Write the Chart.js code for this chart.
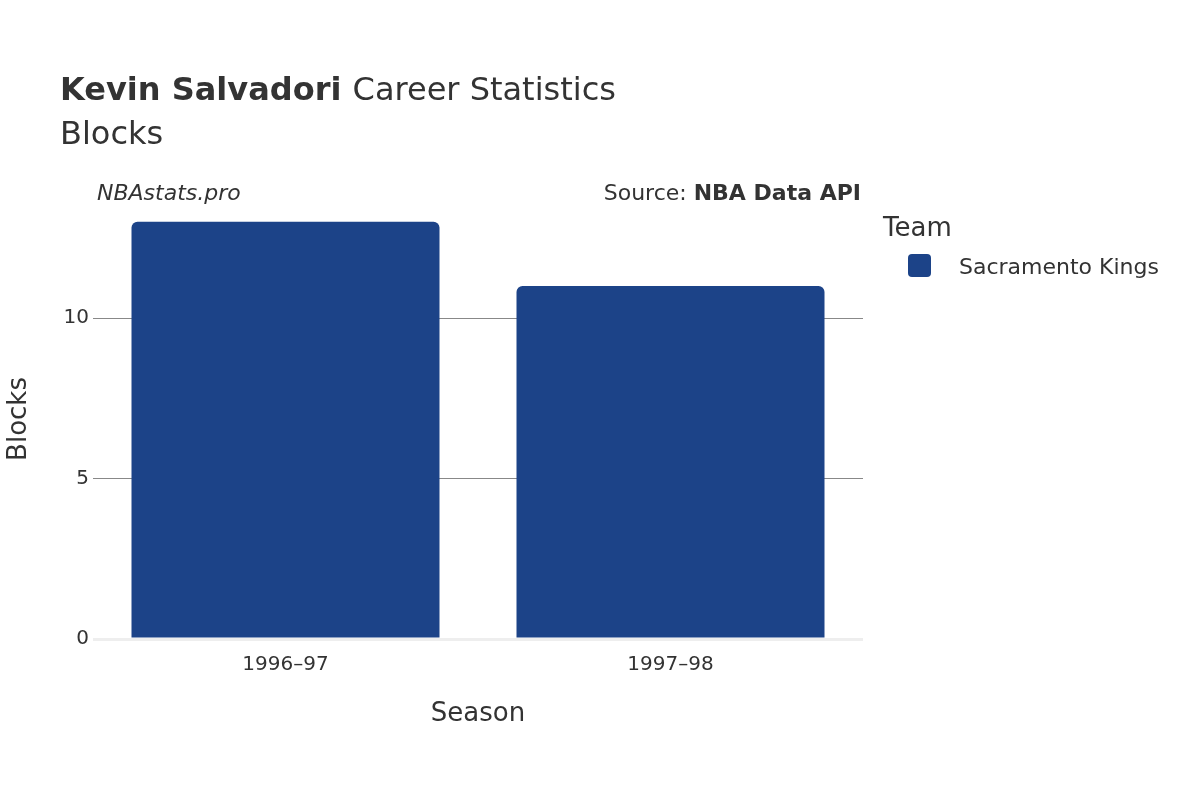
<!DOCTYPE html>
<html><head><meta charset="utf-8">
<script src="https://cdn.jsdelivr.net/npm/chart.js@4"></script>
<style>html,body{margin:0;padding:0;background:#fff}#c{display:block}</style>
</head><body>
<div style="width:1200px;height:800px"><canvas id="c" width="1200" height="800"></canvas></div>
<script>
const seasons = ["1996\u201397", "1997\u201398"];
const blocks = [13, 11];
const teamName = "Sacramento Kings";
const yTicks = [0, 5, 10];
const F = "'DejaVu Sans', sans-serif";
const txt = {
  id: 'txt',
  afterDraw(ch) {
    const c = ch.ctx; c.save(); c.fillStyle = '#333'; c.textBaseline = 'alphabetic';
    c.font = "bold 32px " + F; c.textAlign = 'left';
    c.fillText("Kevin Salvadori", 60, 100);
    const w = c.measureText("Kevin Salvadori ").width;
    c.font = "32px " + F; c.fillText("Career Statistics", 60 + w, 100);
    c.fillText("Blocks", 60, 144);
    c.font = "italic 22px " + F; c.fillText("NBAstats.pro", 97, 200);
    c.textAlign = 'right'; c.font = "bold 22px " + F;
    c.fillText("NBA Data API", 861, 200);
    const bw = c.measureText("NBA Data API").width;
    c.font = "22px " + F; c.fillText("Source: ", 861 - bw, 200);
    c.textAlign = 'center'; c.font = "26px " + F;
    c.fillText("Season", 478, 721);
    c.save(); c.translate(26, 419); c.rotate(-Math.PI/2); c.fillText("Blocks", 0, 0); c.restore();
    c.textAlign = 'left'; c.font = "26px " + F; c.fillText("Team", 883, 236);
    c.fillStyle = '#1c4388'; c.beginPath(); c.roundRect(908, 254, 23, 23, 4); c.fill();
    c.fillStyle = '#333'; c.font = "22px " + F; c.fillText(teamName, 959, 274);
    c.restore();
  }
};
new Chart(document.getElementById('c'), {
  type: 'bar',
  data: { labels: seasons, datasets: [{ label: teamName, data: blocks, backgroundColor: '#1c4388',
    borderRadius: 6, borderSkipped: 'bottom', categoryPercentage: 0.8, barPercentage: 1 }] },
  options: {
    responsive: false, animation: false,
    layout: { padding: { top: 200, right: 337, left: 0, bottom: 0 } },
    plugins: { legend: { display: false }, tooltip: { enabled: false } },
    scales: {
      x: { afterFit(s) { s.height = 161; }, grid: { display: false }, border: { display: false },
        ticks: { font: { family: F, size: 20 }, color: '#333', padding: 6 } },
      y: { min: 0, max: 13.68, afterFit(s) { s.width = 93; },
        afterBuildTicks(s) { s.ticks = yTicks.map(v => ({ value: v })); },
        border: { display: false },
        grid: { color: ctx => ctx.tick && ctx.tick.value === 0 ? '#eeeeee' : '#888',
          lineWidth: ctx => ctx.tick && ctx.tick.value === 0 ? 3 : 1, drawTicks: false },
        ticks: { font: { family: F, size: 20 }, color: '#333', padding: 4 } }
    }
  },
  plugins: [txt]
});
</script>
</body></html>
